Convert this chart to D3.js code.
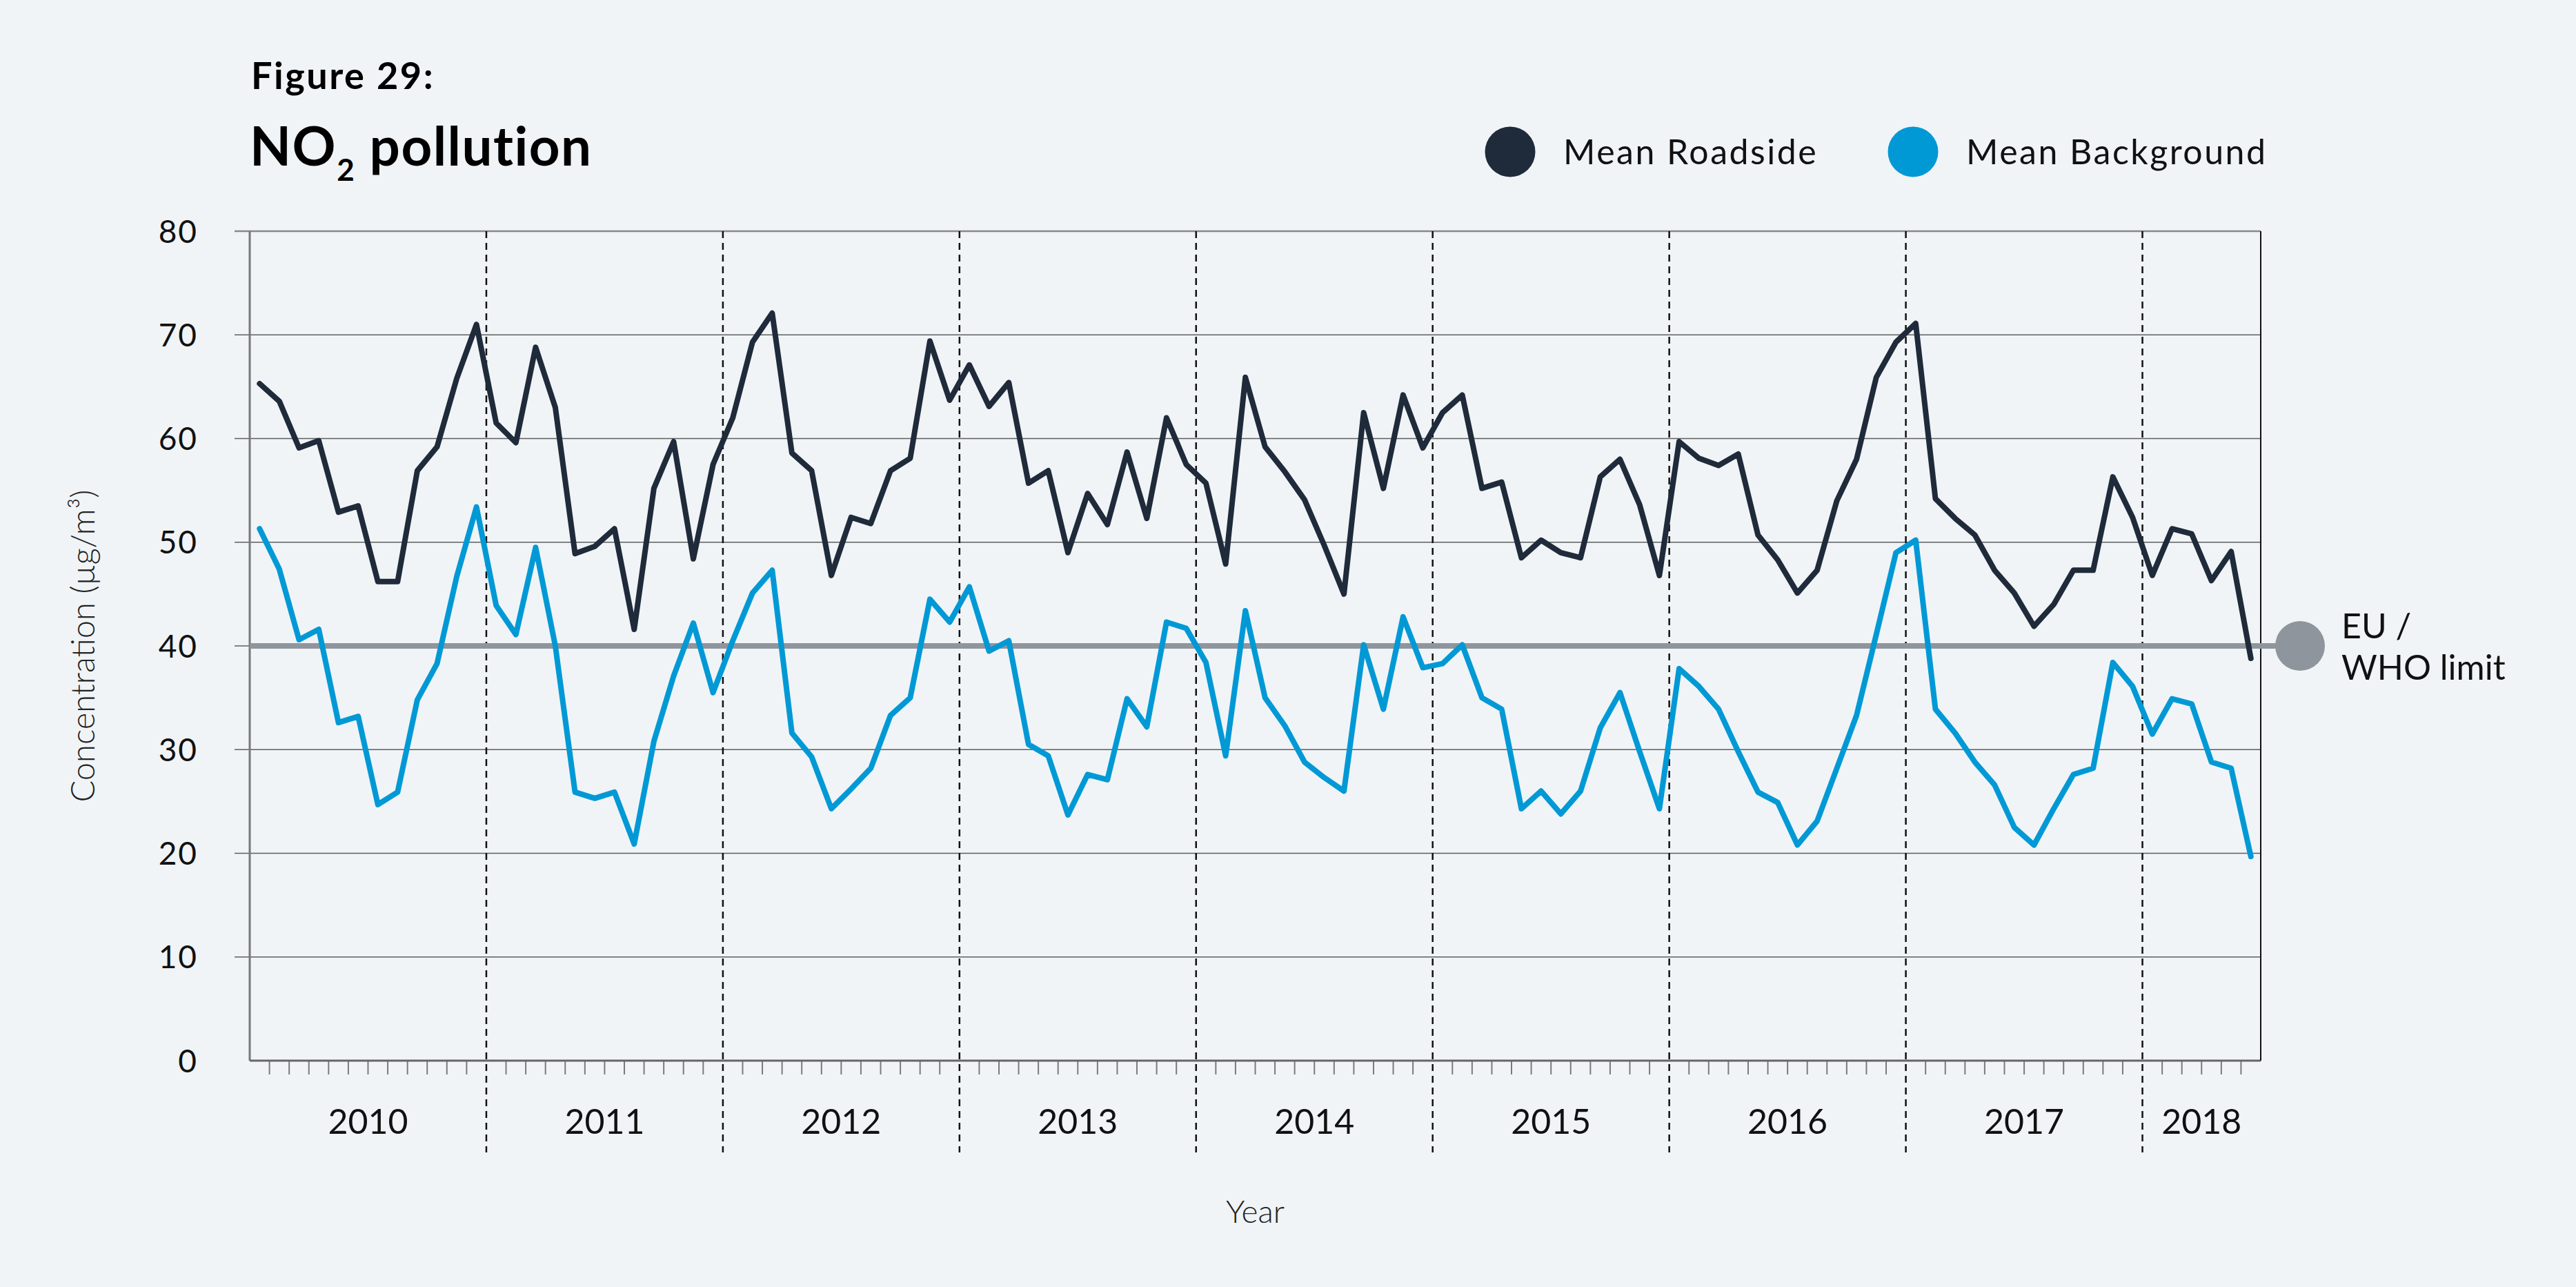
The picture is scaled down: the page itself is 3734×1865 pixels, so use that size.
<!DOCTYPE html>
<html>
<head>
<meta charset="utf-8">
<script src="https://cdn.jsdelivr.net/npm/d3@7"></script>
<style>
  html, body { margin: 0; padding: 0; background: #f0f4f7; }
  svg { display: block; font-family: Lato, "Open Sans", sans-serif; }
</style>
</head>
<body>
<div id="chart"></div>
<script>
// monthly means, Jan 2010 - Jun 2018
var years = ["2010", "2011", "2012", "2013", "2014", "2015", "2016", "2017", "2018"];
var monthsInYear = [12, 12, 12, 12, 12, 12, 12, 12, 6];
var yTicks = [0, 10, 20, 30, 40, 50, 60, 70, 80];
var limitValue = 40;

var roadside = [
  65.3, 63.6, 59.1, 59.8, 52.9, 53.5, 46.2, 46.2, 56.9, 59.2, 65.8, 71.0,
  61.5, 59.6, 68.8, 63.0, 48.9, 49.6, 51.3, 41.6, 55.2, 59.7, 48.4, 57.5,
  62.0, 69.3, 72.1, 58.6, 56.9, 46.8, 52.4, 51.8, 56.9, 58.1, 69.4, 63.7,
  67.1, 63.1, 65.4, 55.7, 56.9, 49.0, 54.7, 51.7, 58.7, 52.3, 62.0, 57.5,
  55.7, 47.9, 65.9, 59.2, 56.8, 54.1, 49.7, 45.0, 62.5, 55.2, 64.2, 59.1,
  62.5, 64.2, 55.2, 55.8, 48.5, 50.2, 49.0, 48.5, 56.3, 58.0, 53.6, 46.8,
  59.7, 58.1, 57.4, 58.5, 50.7, 48.3, 45.1, 47.3, 54.0, 58.0, 65.9, 69.3,
  71.1, 54.2, 52.3, 50.7, 47.3, 45.1, 41.9, 44.0, 47.3, 47.3, 56.3, 52.4,
  46.8, 51.3, 50.8, 46.3, 49.1, 38.8
];

var background = [
  51.3, 47.4, 40.6, 41.6, 32.6, 33.2, 24.7, 25.9, 34.8, 38.3, 46.7, 53.4,
  43.9, 41.1, 49.5, 40.0, 25.9, 25.3, 25.9, 20.9, 30.8, 37.1, 42.2, 35.5,
  40.5, 45.1, 47.3, 31.6, 29.3, 24.3, 26.2, 28.2, 33.3, 35.0, 44.5, 42.3,
  45.7, 39.5, 40.5, 30.5, 29.4, 23.7, 27.6, 27.1, 34.9, 32.2, 42.3, 41.7,
  38.4, 29.4, 43.4, 35.0, 32.3, 28.8, 27.3, 26.0, 40.1, 33.9, 42.8, 37.9,
  38.3, 40.1, 35.0, 33.9, 24.3, 26.0, 23.8, 26.0, 32.1, 35.5, 29.8, 24.3,
  37.8, 36.1, 33.9, 29.8, 25.9, 24.9, 20.8, 23.1, 28.2, 33.3, 41.1, 49.0,
  50.2, 33.9, 31.6, 28.8, 26.6, 22.5, 20.8, 24.3, 27.6, 28.2, 38.4, 36.1,
  31.5, 34.9, 34.4, 28.8, 28.2, 19.7
];

var seriesNames = ["Mean Roadside", "Mean Background"];
var seriesColors = ["#1f2a3a", "#0099d5"];
var limitColor = "#8f959c";

// month keys like 2010-01
var months = [];
years.forEach(function(yr, i) {
  for (var m = 1; m <= monthsInYear[i]; m++) {
    months.push(yr + "-" + (m < 10 ? "0" + m : m));
  }
});

var W = 3734, H = 1865;
var plotLeft = 362, plotRight = 3277, plotTop = 335, plotBottom = 1537;

var svg = d3.select("#chart").append("svg")
  .attr("width", W)
  .attr("height", H);

svg.append("rect").attr("width", W).attr("height", H).attr("fill", "#f0f4f7");

var x = d3.scaleBand().domain(months).range([plotLeft, plotRight]).padding(0);
var y = d3.scaleLinear().domain([0, 80]).range([plotBottom, plotTop]);

// gridlines
svg.selectAll("line.grid")
  .data(yTicks.filter(function(d) { return d > 0 && d < 80; }))
  .enter()
  .append("line")
  .attr("class", "grid")
  .attr("x1", plotLeft - 22)
  .attr("x2", plotRight)
  .attr("y1", function(d) { return y(d); })
  .attr("y2", function(d) { return y(d); })
  .attr("stroke", "#5e5e5e")
  .attr("stroke-width", 1.6);

// top line
svg.append("line")
  .attr("x1", plotLeft - 22).attr("x2", plotRight)
  .attr("y1", y(80)).attr("y2", y(80))
  .attr("stroke", "#888").attr("stroke-width", 2.5);

// y labels
svg.selectAll("text.ylab")
  .data(yTicks)
  .enter()
  .append("text")
  .attr("class", "ylab")
  .attr("x", 287)
  .attr("y", function(d) { return y(d); })
  .attr("dy", "0.36em")
  .attr("text-anchor", "end")
  .attr("font-size", 46)
  .attr("letter-spacing", 2)
  .attr("fill", "#111")
  .text(function(d) { return d; });

// year boundaries
var yearStart = [];
var acc = 0;
monthsInYear.forEach(function(n) { yearStart.push(acc); acc += n; });

svg.selectAll("line.yearsep")
  .data(yearStart.slice(1))
  .enter()
  .append("line")
  .attr("x1", function(d) { return x(months[d]); })
  .attr("x2", function(d) { return x(months[d]); })
  .attr("y1", plotTop)
  .attr("y2", 1670)
  .attr("stroke", "#111")
  .attr("stroke-width", 2.5)
  .attr("stroke-dasharray", "10,7");

// month ticks
svg.selectAll("line.mtick")
  .data(months.slice(1).filter(function(m) { return m.slice(5) !== "01"; }))
  .enter()
  .append("line")
  .attr("x1", function(d) { return x(d); })
  .attr("x2", function(d) { return x(d); })
  .attr("y1", plotBottom)
  .attr("y2", plotBottom + 20)
  .attr("stroke", "#7a7a7a")
  .attr("stroke-width", 2);

// year labels
svg.selectAll("text.year")
  .data(years)
  .enter()
  .append("text")
  .attr("x", function(d, i) {
    var a = x(months[yearStart[i]]);
    var b = x(months[yearStart[i] + monthsInYear[i] - 1]) + x.bandwidth();
    return (a + b) / 2;
  })
  .attr("y", 1643)
  .attr("text-anchor", "middle")
  .attr("font-size", 50)
  .attr("fill", "#111")
  .text(function(d) { return d; });

// axes frame
svg.append("line")
  .attr("x1", plotLeft).attr("x2", plotLeft).attr("y1", plotTop).attr("y2", plotBottom)
  .attr("stroke", "#777").attr("stroke-width", 3);
svg.append("line")
  .attr("x1", plotLeft).attr("x2", plotRight).attr("y1", plotBottom).attr("y2", plotBottom)
  .attr("stroke", "#666").attr("stroke-width", 3);
svg.append("line")
  .attr("x1", plotRight).attr("x2", plotRight).attr("y1", plotTop).attr("y2", plotBottom)
  .attr("stroke", "#111").attr("stroke-width", 2);

// EU / WHO limit
svg.append("line")
  .attr("x1", plotLeft).attr("x2", 3334)
  .attr("y1", y(limitValue)).attr("y2", y(limitValue))
  .attr("stroke", limitColor).attr("stroke-width", 8);
svg.append("circle")
  .attr("cx", 3334).attr("cy", y(limitValue)).attr("r", 36)
  .attr("fill", limitColor);
var lim = svg.append("text")
  .attr("x", 3394).attr("font-size", 50).attr("fill", "#111");
lim.append("tspan").attr("x", 3394).attr("y", y(limitValue) - 11).text("EU /");
lim.append("tspan").attr("x", 3394).attr("y", y(limitValue) + 49).text("WHO limit");

// lines
var line = d3.line()
  .x(function(d, i) { return x(months[i]) + x.bandwidth() / 2; })
  .y(function(d) { return y(d); });

[roadside, background].forEach(function(s, k) {
  svg.append("path")
    .datum(s)
    .attr("d", line)
    .attr("fill", "none")
    .attr("stroke", seriesColors[k])
    .attr("stroke-width", 8)
    .attr("stroke-linejoin", "round")
    .attr("stroke-linecap", "round");
});

// titles
svg.append("text")
  .attr("x", 364).attr("y", 129)
  .attr("font-size", 54).attr("font-weight", 700).attr("letter-spacing", 2.5)
  .attr("fill", "#000")
  .text("Figure 29:");

var t = svg.append("text")
  .attr("x", 362).attr("y", 240)
  .attr("font-size", 78).attr("font-weight", 700).attr("letter-spacing", 1.5)
  .attr("fill", "#000");
t.append("tspan").text("NO");
t.append("tspan").attr("font-size", 44).attr("dy", 22).text("2");
t.append("tspan").attr("dy", -22).text(" pollution");

// legend
var legX = [2189, 2773];
seriesNames.forEach(function(n, k) {
  svg.append("circle")
    .attr("cx", legX[k]).attr("cy", 220).attr("r", 36.5)
    .attr("fill", seriesColors[k]);
  svg.append("text")
    .attr("x", legX[k] + 77).attr("y", 238)
    .attr("font-size", 50).attr("letter-spacing", 2.5).attr("fill", "#111")
    .text(n);
});

// axis titles
svg.append("text")
  .attr("transform", "translate(121,936) rotate(-90)")
  .attr("text-anchor", "middle")
  .attr("dy", "0.35em")
  .attr("font-size", 47).attr("font-weight", 300).attr("fill", "#222")
  .text("Concentration (µg/m³)");

svg.append("text")
  .attr("x", (plotLeft + plotRight) / 2).attr("y", 1772)
  .attr("text-anchor", "middle")
  .attr("font-size", 46).attr("font-weight", 300).attr("fill", "#222")
  .text("Year");
</script>
</body>
</html>
